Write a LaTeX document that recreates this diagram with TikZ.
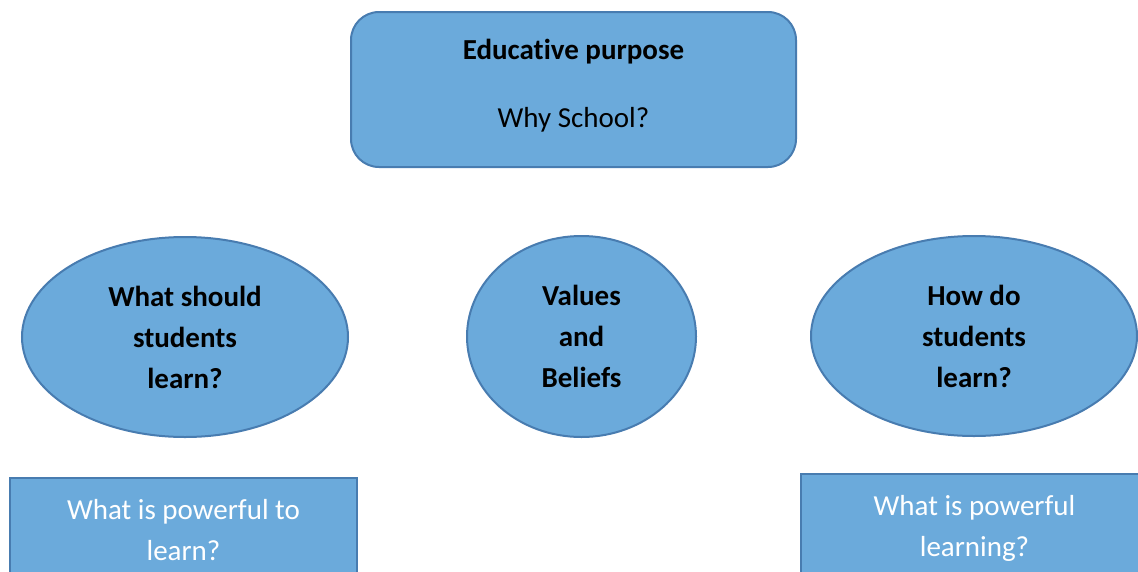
\documentclass[tikz,border=0pt]{standalone}
\usepackage{fontspec}
\setmainfont{Carlito}[Ligatures=CommonOff]
\usetikzlibrary{shapes.geometric}
\definecolor{shapefill}{RGB}{107,170,219}
\definecolor{shapeline}{RGB}{72,124,176}
\begin{document}
\begin{tikzpicture}[x=1pt,y=-1pt,
  every node/.style={font=\fontsize{29}{41}\selectfont, align=center, inner sep=0pt},
  shapebase/.style={fill=shapefill, draw=shapeline, line width=2pt},
  purposebox/.style={shapebase, rectangle, rounded corners=28pt},
  bubble/.style={shapebase, ellipse, font=\fontsize{29}{41}\selectfont\bfseries},
  answerbox/.style={shapebase, rectangle, text=white}]
\useasboundingbox (0,0) rectangle (1138,571);
\clip (0,0) rectangle (1138,571);
\fill[white] (0,0) rectangle (1138,571);

% top: the purpose of schooling
\node[purposebox, minimum width=445pt, minimum height=155pt] (purpose) at (573.5,89.5) {};
\node (purposetext) at (573.5,86) {\textbf{Educative purpose}\\[27pt]Why School?};

% the three questions
\node[bubble, minimum width=326pt, minimum height=200pt] (what) at (185,337) {What should\\students\\learn?};
\node[bubble, minimum width=229pt, minimum height=201pt] (values) at (581.5,336.5) {Values\\and\\Beliefs};
\node[bubble, minimum width=326pt, minimum height=200pt] (how) at (974,336) {How do\\students\\learn?};

% answers, running off the lower edge
\node[answerbox, minimum width=347pt, minimum height=104pt] (powerfulwhat) at (183.5,530) {What is powerful to\\learn?};
\node[answerbox, minimum width=347pt, minimum height=108pt] (powerfulhow) at (974.5,528) {What is powerful\\learning?};
\end{tikzpicture}
\end{document}
